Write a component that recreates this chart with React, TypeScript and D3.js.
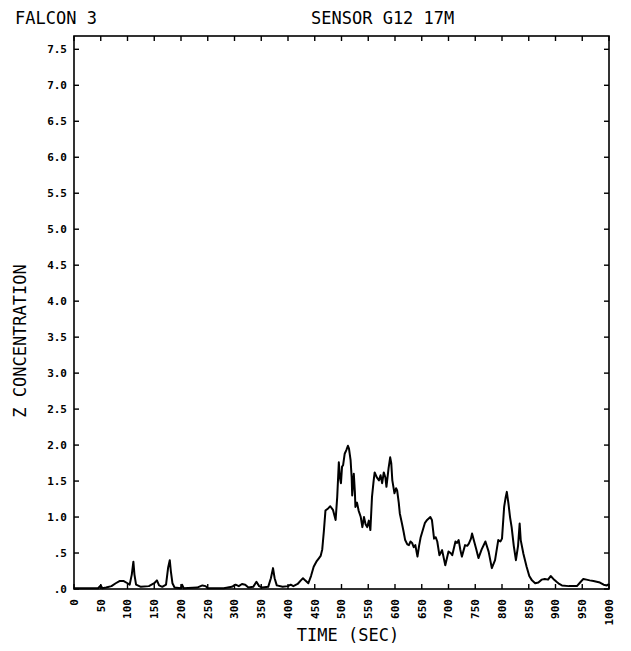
import React from "react";
import * as d3 from "d3";

const titleLeft = "FALCON 3";
const titleRight = "SENSOR G12 17M";
const xLabel = "TIME (SEC)";
const yLabel = "Z CONCENTRATION";

const xTicks = [0, 50, 100, 150, 200, 250, 300, 350, 400, 450, 500, 550, 600, 650, 700, 750, 800, 850, 900, 950, 1000];
const yTicks = [0, 0.5, 1, 1.5, 2, 2.5, 3, 3.5, 4, 4.5, 5, 5.5, 6, 6.5, 7, 7.5];
const yTickLabels = [".0", ".5", "1.0", "1.5", "2.0", "2.5", "3.0", "3.5", "4.0", "4.5", "5.0", "5.5", "6.0", "6.5", "7.0", "7.5"];

const times = [
  0, 20, 45, 50, 53, 60, 70, 78, 85, 93, 100, 104, 108, 111, 113, 116, 125, 140, 150, 155,
  159, 165, 172, 176, 179, 181, 184, 188, 200, 202, 205, 230, 240, 246, 250, 280, 295, 302, 308, 314,
  320, 326, 335, 341, 346, 352, 363, 368, 372, 375, 379, 390, 400, 405, 410, 418, 424, 428, 432, 438,
  443, 448, 453, 458, 461, 464, 467, 470, 475, 479, 484, 489, 492, 495, 497, 499, 501, 503, 506, 509,
  512, 514, 517, 519, 520, 523, 525, 526, 529, 532, 536, 539, 542, 545, 548, 551, 554, 557, 560, 562,
  566, 570, 573, 576, 579, 582, 584, 588, 591, 593, 595, 599, 602, 604, 607, 609, 613, 616, 619, 623,
  626, 629, 632, 635, 638, 642, 645, 648, 652, 656, 660, 663, 666, 669, 673, 676, 679, 683, 688, 694,
  700, 704, 707, 713, 716, 719, 722, 725, 731, 735, 738, 742, 744, 748, 752, 756, 762, 769, 775, 781,
  787, 793, 797, 800, 804, 807, 809, 812, 815, 818, 822, 826, 830, 833, 835, 840, 846, 851, 856, 862,
  868, 874, 880, 886, 891, 896, 902, 907, 912, 925, 940, 946, 952, 958, 964, 971, 977, 983, 990, 996,
  1000,
];
const concentration = [
  0.01, 0.01, 0.01, 0.05, 0.01, 0.02, 0.04, 0.08, 0.11, 0.11, 0.08, 0.06, 0.2, 0.38, 0.2, 0.06, 0.03, 0.04, 0.08, 0.12,
  0.05, 0.03, 0.06, 0.3, 0.4, 0.25, 0.08, 0.02, 0.01, 0.06, 0.01, 0.02, 0.05, 0.04, 0.01, 0.01, 0.03, 0.06, 0.04, 0.07,
  0.06, 0.02, 0.03, 0.1, 0.04, 0.02, 0.03, 0.15, 0.29, 0.15, 0.05, 0.03, 0.04, 0.06, 0.04, 0.07, 0.12, 0.15, 0.12, 0.08,
  0.18, 0.31, 0.38, 0.43, 0.46, 0.55, 0.8, 1.09, 1.12, 1.15, 1.1, 0.96, 1.28, 1.76, 1.55, 1.47, 1.7, 1.72, 1.88, 1.93,
  1.99, 1.95, 1.79, 1.55, 1.3, 1.6, 1.35, 1.14, 1.2, 1.09, 1.0, 0.86, 1.0, 0.9, 0.86, 0.95, 0.82, 1.28, 1.5, 1.62,
  1.55, 1.51, 1.58, 1.47, 1.62, 1.55, 1.42, 1.68, 1.83, 1.75, 1.51, 1.33, 1.4, 1.37, 1.2, 1.05, 0.91, 0.8, 0.68, 0.62,
  0.61, 0.66, 0.64, 0.58, 0.61, 0.45, 0.6, 0.72, 0.82, 0.92, 0.96, 0.98, 1.0, 0.96, 0.7, 0.72, 0.66, 0.47, 0.54, 0.33,
  0.52, 0.5, 0.47, 0.66, 0.64, 0.68, 0.55, 0.45, 0.61, 0.6, 0.63, 0.7, 0.77, 0.66, 0.55, 0.43, 0.55, 0.66, 0.52, 0.29,
  0.4, 0.68, 0.66, 0.7, 1.14, 1.28, 1.35, 1.19, 1.0, 0.86, 0.6, 0.4, 0.6, 0.91, 0.68, 0.49, 0.31, 0.18, 0.12, 0.08,
  0.09, 0.13, 0.14, 0.13, 0.18, 0.14, 0.1, 0.07, 0.05, 0.04, 0.04, 0.09, 0.14, 0.13, 0.12, 0.11, 0.1, 0.09, 0.06, 0.05,
  0.07,
];

const W = 631;
const H = 651;
const left = 74;
const right = 609;
const top = 36;
const bottom = 589;
const tickLen = 5;
const mono = "'DejaVu Sans Mono', monospace";

export default function App() {
  const x = d3.scaleLinear().domain([0, 1000]).range([left, right]);
  const y = d3.scaleLinear().domain([0, 7.685]).range([bottom, top]);
  const data = times.map((t, i) => [t, concentration[i]] as [number, number]);
  const line = d3
    .line<[number, number]>()
    .x((d) => x(d[0]))
    .y((d) => y(d[1]))
    .curve(d3.curveLinear);

  return (
    <svg
      width={W}
      height={H}
      style={{ position: "absolute", left: 0, top: 0, background: "#fff" }}
    >
      <rect x={0} y={0} width={W} height={H} fill="#fff" />
      <text x={15} y={24} fontFamily={mono} fontSize={17} fill="#000">
        {titleLeft}
      </text>
      <text x={311} y={24} fontFamily={mono} fontSize={17} fill="#000">
        {titleRight}
      </text>

      <rect
        x={left}
        y={top}
        width={right - left}
        height={bottom - top}
        fill="none"
        stroke="#000"
        strokeWidth={1.6}
      />

      {xTicks.map((t) => (
        <g key={"xt" + t}>
          <line x1={x(t)} x2={x(t)} y1={bottom} y2={bottom - tickLen} stroke="#000" strokeWidth={1.4} />
          <line x1={x(t)} x2={x(t)} y1={top} y2={top + tickLen} stroke="#000" strokeWidth={1.4} />
          <text
            transform={`translate(${x(t)},599) rotate(-90)`}
            textAnchor="end"
            dy="0.36em"
            fontFamily={mono}
            fontWeight="bold"
            fontSize={11}
            fill="#000"
          >
            {String(t)}
          </text>
        </g>
      ))}

      {yTicks.map((v, i) => (
        <g key={"yt" + v}>
          <line x1={left} x2={left + tickLen} y1={y(v)} y2={y(v)} stroke="#000" strokeWidth={1.4} />
          <line x1={right} x2={right - tickLen} y1={y(v)} y2={y(v)} stroke="#000" strokeWidth={1.4} />
          <text
            x={67}
            y={y(v)}
            dy="0.36em"
            textAnchor="end"
            fontFamily={mono}
            fontWeight="bold"
            fontSize={11}
            fill="#000"
          >
            {yTickLabels[i]}
          </text>
        </g>
      ))}

      <path d={line(data) || ""} fill="none" stroke="#000" strokeWidth={2} strokeLinejoin="round" />

      <text x={348} y={641} textAnchor="middle" fontFamily={mono} fontSize={17} fill="#000">
        {xLabel}
      </text>
      <text
        transform={`translate(26,341) rotate(-90)`}
        textAnchor="middle"
        fontFamily={mono}
        fontSize={17}
        fill="#000"
      >
        {yLabel}
      </text>
    </svg>
  );
}
